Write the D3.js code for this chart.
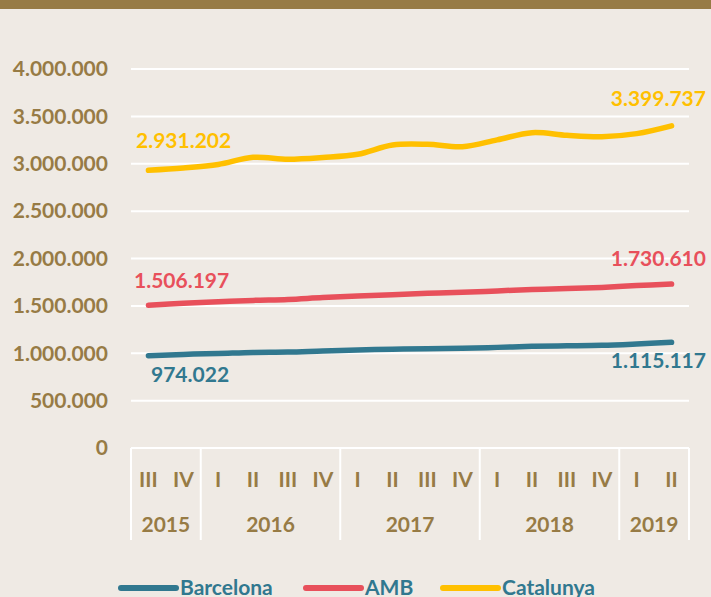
<!DOCTYPE html>
<html>
<head>
<meta charset="utf-8">
<script src="https://d3js.org/d3.v7.min.js"></script>
<style>
  body { margin: 0; background: #efeae4; }
  svg { display: block; font-family: Lato, "Open Sans", sans-serif; font-weight: bold; }
</style>
</head>
<body>
<svg id="chart" width="711" height="597"></svg>
<script>
// quarters on the x axis and the year each belongs to
var quarters = ["III","IV","I","II","III","IV","I","II","III","IV","I","II","III","IV","I","II"];
var quarterYears = ["2015","2015","2016","2016","2016","2016","2017","2017","2017","2017","2018","2018","2018","2018","2019","2019"];
var yTicks = [0, 500000, 1000000, 1500000, 2000000, 2500000, 3000000, 3500000, 4000000];

var barcelona = [974022, 988000, 997000, 1008000, 1012000, 1024000, 1034000, 1043000, 1048000, 1052000, 1062000, 1073000, 1078000, 1084000, 1098000, 1115117];
var amb = [1506197, 1528000, 1543000, 1558000, 1568000, 1588000, 1603000, 1618000, 1633000, 1643000, 1658000, 1673000, 1683000, 1695000, 1714000, 1730610];
var catalunya = [2931202, 2955000, 2992000, 3068000, 3048000, 3066000, 3100000, 3198000, 3205000, 3180000, 3252000, 3328000, 3300000, 3286000, 3318000, 3399737];

var seriesNames = ["Barcelona", "AMB", "Catalunya"];
var seriesColors = ["#31788f", "#e8505b", "#ffc000"];

function draw() {
  var brown = "#977b45";
  var svg = d3.select("#chart");

  svg.append("rect").attr("width", 711).attr("height", 597).attr("fill", "#efeae4");
  svg.append("rect").attr("width", 711).attr("height", 9).attr("fill", brown);

  var plotLeft = 131, plotRight = 689, plotTop = 69, plotBottom = 448;

  var x = d3.scaleBand().domain(d3.range(quarters.length)).range([plotLeft, plotRight]).padding(0);
  var y = d3.scaleLinear().domain([0, 4000000]).range([plotBottom, plotTop]);
  var fmt = function(v) { return d3.format(",")(v).replace(/,/g, "."); };

  // gridlines
  svg.append("g").selectAll("line").data(yTicks).enter().append("line")
    .attr("x1", plotLeft).attr("x2", plotRight)
    .attr("y1", function(d) { return y(d); }).attr("y2", function(d) { return y(d); })
    .attr("stroke", "#ffffff").attr("stroke-width", 2);

  // y labels
  svg.append("g").selectAll("text").data(yTicks).enter().append("text")
    .attr("x", 108).attr("y", function(d) { return y(d); })
    .attr("dy", "0.35em").attr("text-anchor", "end")
    .attr("fill", brown).attr("font-size", 21)
    .text(function(d) { return fmt(d); });

  // year groups
  var groups = [];
  quarterYears.forEach(function(yr, i) {
    var g = groups[groups.length - 1];
    if (!g || g.year !== yr) groups.push({ year: yr, start: i, end: i });
    else g.end = i;
  });

  var sep = svg.append("g");
  groups.forEach(function(g, k) {
    var x0 = x(g.start), x1 = x(g.end) + x.bandwidth();
    if (k === 0) sep.append("line").attr("x1", x0).attr("x2", x0).attr("y1", plotBottom).attr("y2", 540)
      .attr("stroke", "#fff").attr("stroke-width", 2);
    sep.append("line").attr("x1", x1).attr("x2", x1).attr("y1", plotBottom).attr("y2", 540)
      .attr("stroke", "#fff").attr("stroke-width", 2);
    svg.append("text").attr("x", (x0 + x1) / 2).attr("y", 525).attr("dy", "0.35em")
      .attr("text-anchor", "middle").attr("fill", brown).attr("font-size", 21).text(g.year);
  });

  svg.append("g").selectAll("text").data(quarters).enter().append("text")
    .attr("x", function(d, i) { return x(i) + x.bandwidth() / 2; })
    .attr("y", 480).attr("dy", "0.35em").attr("text-anchor", "middle")
    .attr("fill", brown).attr("font-size", 21)
    .text(function(d) { return d; });

  // lines
  var line = d3.line()
    .x(function(d, i) { return x(i) + x.bandwidth() / 2; })
    .y(function(d) { return y(d); })
    .curve(d3.curveCatmullRom.alpha(0.5));

  [barcelona, amb, catalunya].forEach(function(s, k) {
    svg.append("path").datum(s).attr("d", line)
      .attr("fill", "none").attr("stroke", seriesColors[k])
      .attr("stroke-width", 5.5).attr("stroke-linecap", "round").attr("stroke-linejoin", "round");
  });

  // end labels
  var labels = [
    { s: catalunya, i: 0, k: 2, x: 136, y: 141, anchor: "start" },
    { s: catalunya, i: 15, k: 2, x: 706, y: 99, anchor: "end" },
    { s: amb, i: 0, k: 1, x: 134, y: 281, anchor: "start" },
    { s: amb, i: 15, k: 1, x: 706, y: 259, anchor: "end" },
    { s: barcelona, i: 0, k: 0, x: 151, y: 375, anchor: "start" },
    { s: barcelona, i: 15, k: 0, x: 706, y: 361, anchor: "end" }
  ];
  svg.append("g").selectAll("text").data(labels).enter().append("text")
    .attr("x", function(d) { return d.x; }).attr("y", function(d) { return d.y; })
    .attr("dy", "0.35em").attr("text-anchor", function(d) { return d.anchor; })
    .attr("fill", function(d) { return seriesColors[d.k]; }).attr("font-size", 21)
    .text(function(d) { return fmt(d.s[d.i]); });

  // legend
  var legX = [121, 306, 443];
  var leg = svg.append("g").selectAll("g").data(seriesNames).enter().append("g")
    .attr("transform", function(d, i) { return "translate(" + legX[i] + ",588)"; });
  leg.append("line").attr("x1", 0).attr("x2", 55).attr("y1", 0).attr("y2", 0)
    .attr("stroke", function(d, i) { return seriesColors[i]; })
    .attr("stroke-width", 6).attr("stroke-linecap", "round");
  leg.append("text").attr("x", 59).attr("y", 0).attr("dy", "0.35em")
    .attr("fill", seriesColors[0]).attr("font-size", 21)
    .text(function(d) { return d; });
}
draw();
</script>
</body>
</html>
